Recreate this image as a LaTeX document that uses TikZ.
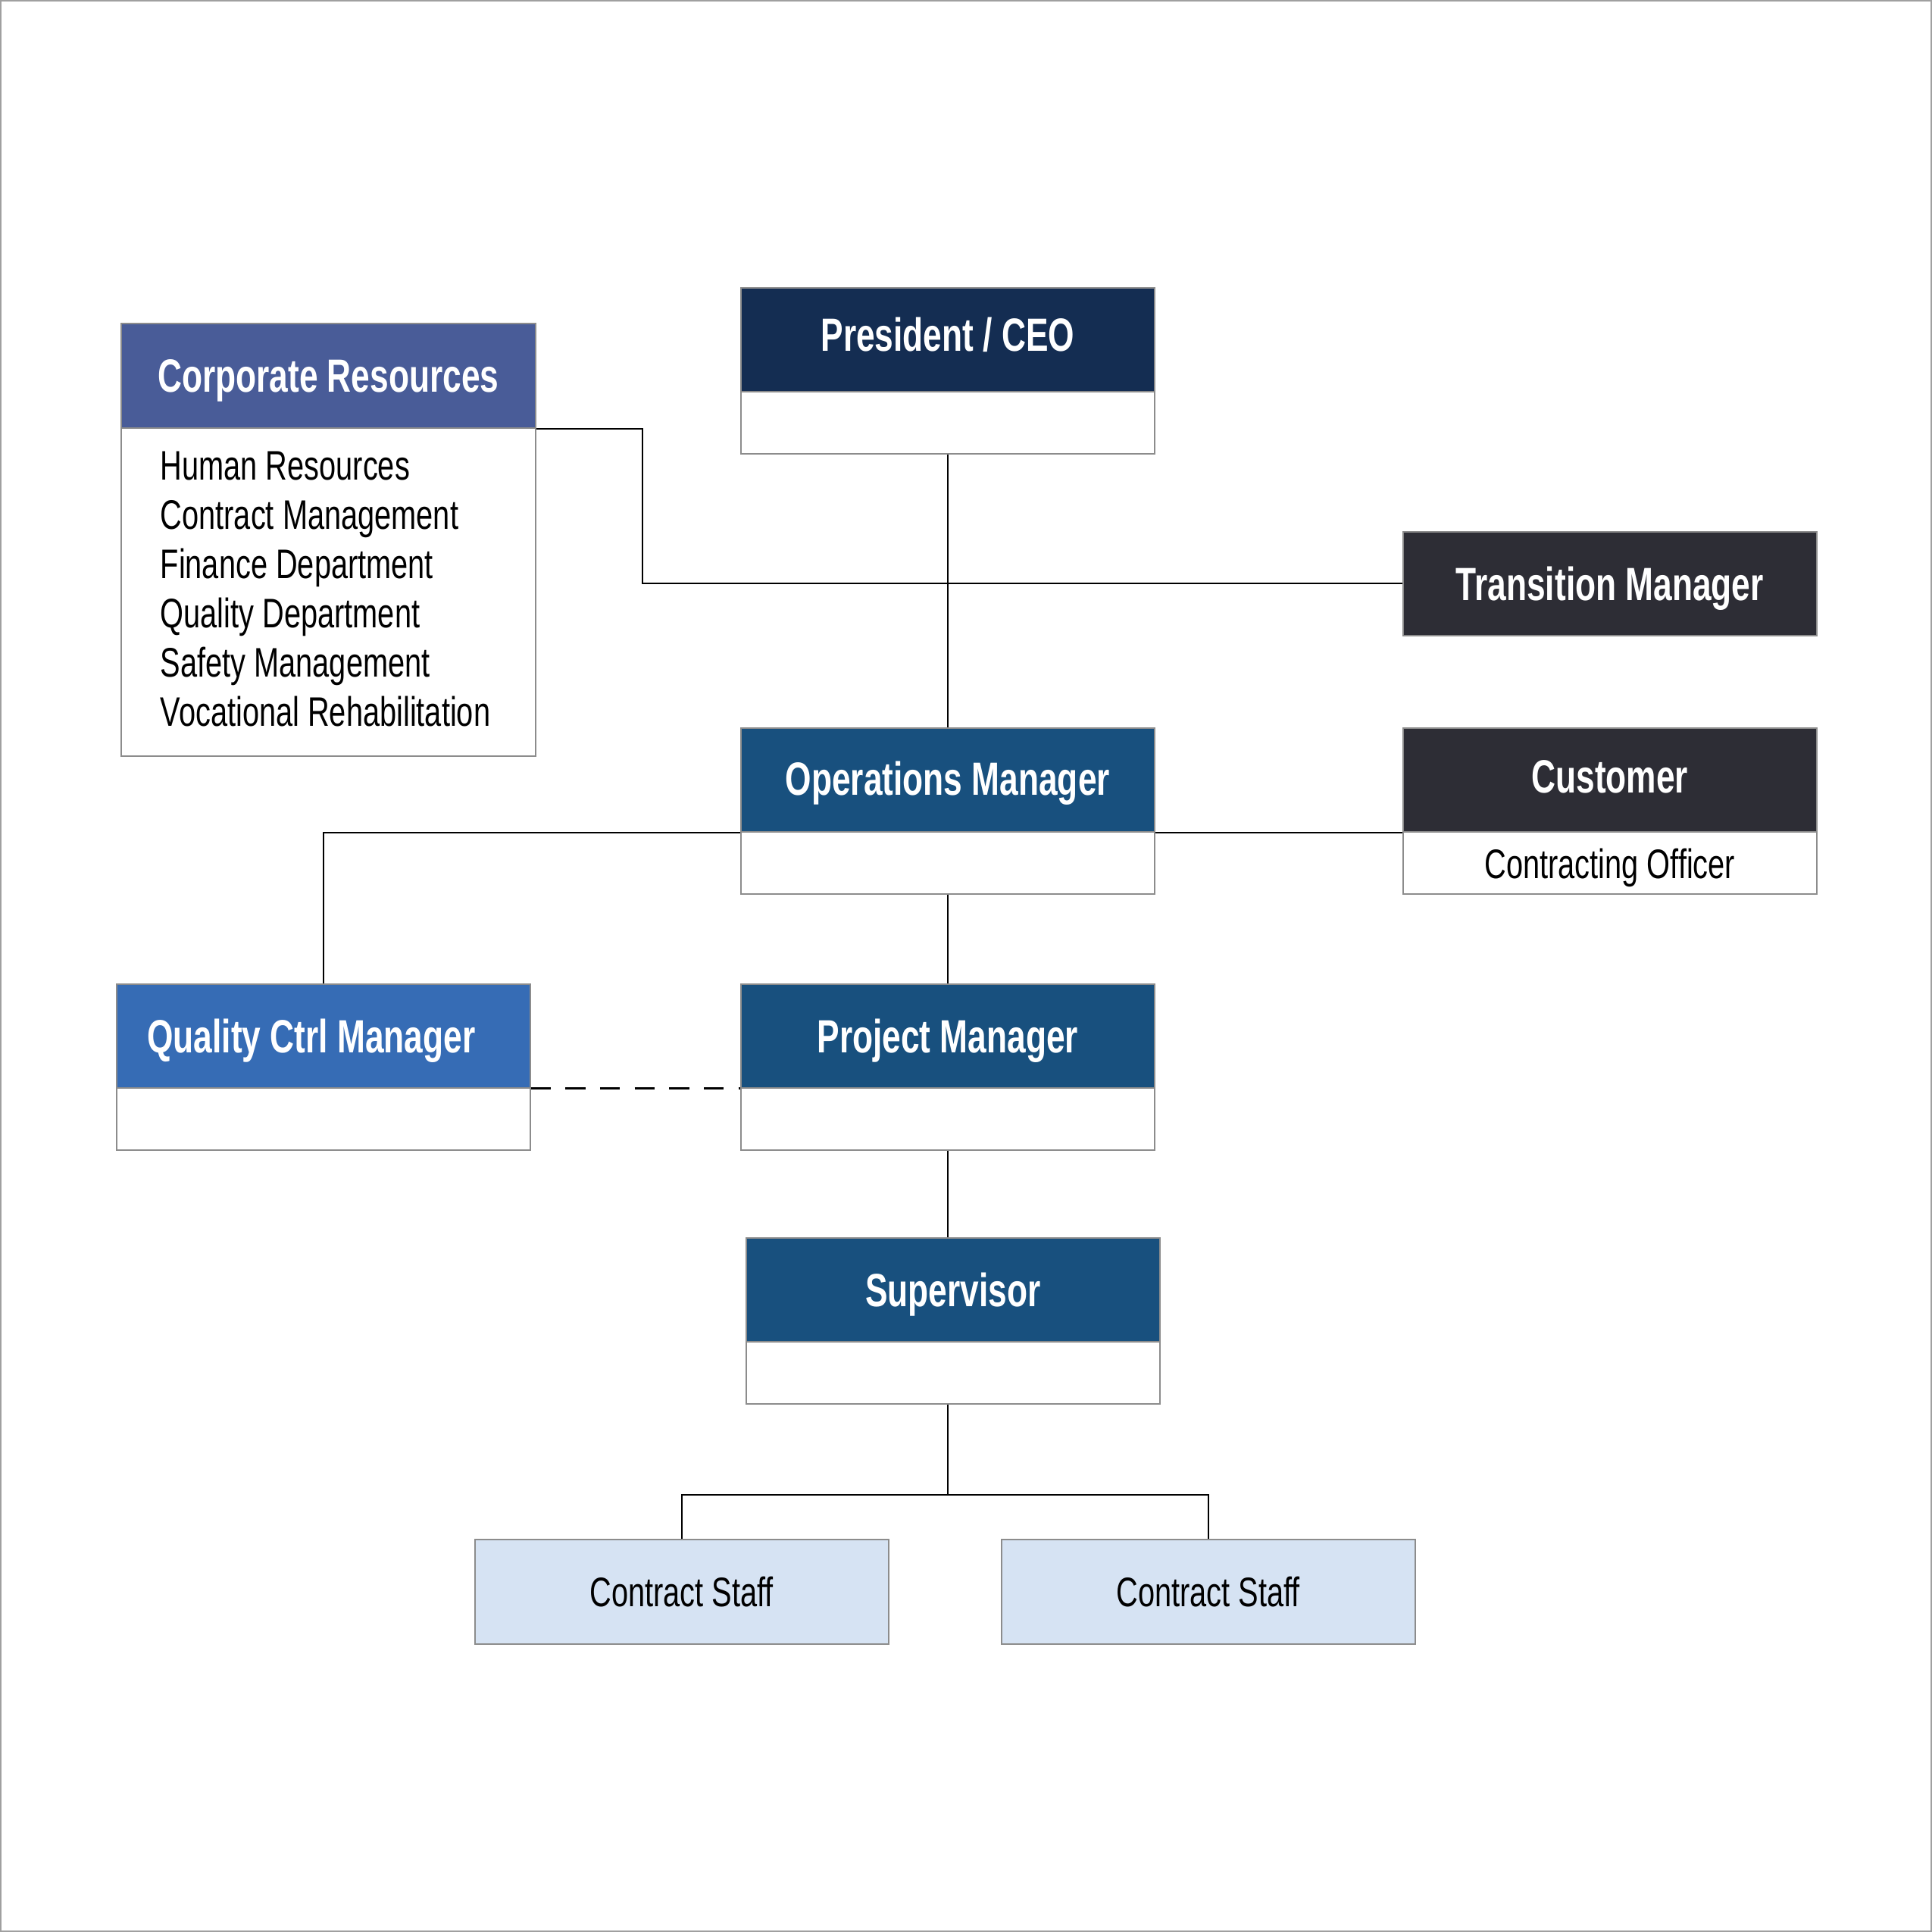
\documentclass[tikz,border=0pt]{standalone}
\usepackage{fontspec}
\usetikzlibrary{calc}
\setmainfont{Liberation Sans}
\newfontfamily\hfont{Liberation Sans}[FakeStretch=0.72]
\newfontfamily\bfont{Liberation Sans}[FakeStretch=0.73]
\definecolor{ceoblue}{HTML}{142D52}
\definecolor{corpblue}{HTML}{495C98}
\definecolor{darkgrey}{HTML}{2D2D35}
\definecolor{opsblue}{HTML}{18507E}
\definecolor{qcblue}{HTML}{366CB5}
\definecolor{staffblue}{HTML}{D6E3F3}
\definecolor{boxgray}{HTML}{8C8C8C}
\definecolor{outergray}{HTML}{A0A0A0}
\tikzset{
  frame/.style={rectangle, draw=boxgray, line width=0.45pt, fill=white, inner sep=0pt,
    minimum width=5.46cm, minimum height=2.19cm, anchor=north west},
  hdr/.style={rectangle, draw=boxgray, line width=0.45pt, inner sep=0pt, text=white,
    minimum width=5.46cm, minimum height=1.37cm, anchor=north west,
    font=\hfont\bfseries\fontsize{17.5}{21}\selectfont, text height=12.5pt, text depth=0pt},
  lbl/.style={inner sep=0pt, text=black, font=\bfont\fontsize{15.5}{18.5}\selectfont,
    text height=11.1pt, text depth=0pt},
  listlbl/.style={inner sep=0pt, text=black, font=\bfont\fontsize{15.5}{18.5}\selectfont,
    anchor=north west, align=left},
  conn/.style={draw=black, line width=0.6pt},
  dashconn/.style={draw=black, line width=0.8pt, dash pattern=on 7.5pt off 5.5pt}
}
\begin{document}
\begin{tikzpicture}[x=1cm, y=-1cm]
\useasboundingbox (0,0) rectangle (25.5,25.5);
\draw[outergray, line width=0.6pt] (0.01,0.01) rectangle (25.49,25.49);

% President / CEO
\node[frame] (ceo) at (9.77,3.79) {};
\node[hdr, fill=ceoblue, text depth=3.6pt] (ceoh) at (ceo.north west) {President / CEO};

% Corporate Resources
\node[frame, minimum width=5.47cm, minimum height=5.71cm] (cr) at (1.59,4.26) {};
\node[hdr, fill=corpblue, minimum width=5.47cm, minimum height=1.38cm] (crh) at (cr.north west) {Corporate Resources};
\node[listlbl] (crlist) at (2.11,5.95)
  {Human Resources\\Contract Management\\Finance Department\\Quality Department\\Safety Management\\Vocational Rehabilitation};

% Transition Manager
\node[hdr, fill=darkgrey] (tm) at (18.51,7.01) {Transition Manager};

% Operations Manager
\node[frame] (ops) at (9.77,9.60) {};
\node[hdr, fill=opsblue, text depth=1.2pt] (opsh) at (ops.north west) {Operations Manager};

% Customer
\node[frame] (cust) at (18.51,9.60) {};
\node[hdr, fill=darkgrey, text depth=2.8pt] (custh) at (cust.north west) {Customer};
\node[lbl] (custl) at ($(custh.south)!0.5!(cust.south)$) {Contracting Officer};

% Quality Ctrl Manager
\node[frame] (qc) at (1.53,12.98) {};
\node[hdr, fill=qcblue] (qch) at (qc.north west) {Quality Ctrl Manager\hspace*{0.32cm}};

% Project Manager
\node[frame] (pm) at (9.77,12.98) {};
\node[hdr, fill=opsblue] (pmh) at (pm.north west) {Project Manager};

% Supervisor
\node[frame] (sup) at (9.84,16.33) {};
\node[hdr, fill=opsblue] (suph) at (sup.north west) {Supervisor};

% Contract Staff
\node[frame, fill=staffblue, minimum height=1.38cm] (cs1) at (6.26,20.31) {};
\node[lbl] (cs1l) at (cs1.center) {Contract Staff};
\node[frame, fill=staffblue, minimum height=1.38cm] (cs2) at (13.21,20.31) {};
\node[lbl] (cs2l) at (cs2.center) {Contract Staff};

% connectors
\draw[conn] (ceo.south) -- (ops.north);
\draw[conn] (crh.south east) -- ++(1.40,0) |- (tm.west);
\draw[conn] (opsh.south west) -| (qc.north);
\draw[conn] (opsh.south east) -- (custh.south west);
\draw[conn] (ops.south) -- (pm.north);
\draw[dashconn] (qch.south east) -- (pmh.south west);
\draw[conn] (pm.south) -- (pm.south |- sup.north);
\coordinate (bus) at (12.51,19.73);
\draw[conn] (bus |- sup.south) -- (bus);
\draw[conn] (cs1.north) |- (bus) -| (cs2.north);
\end{tikzpicture}
\end{document}
